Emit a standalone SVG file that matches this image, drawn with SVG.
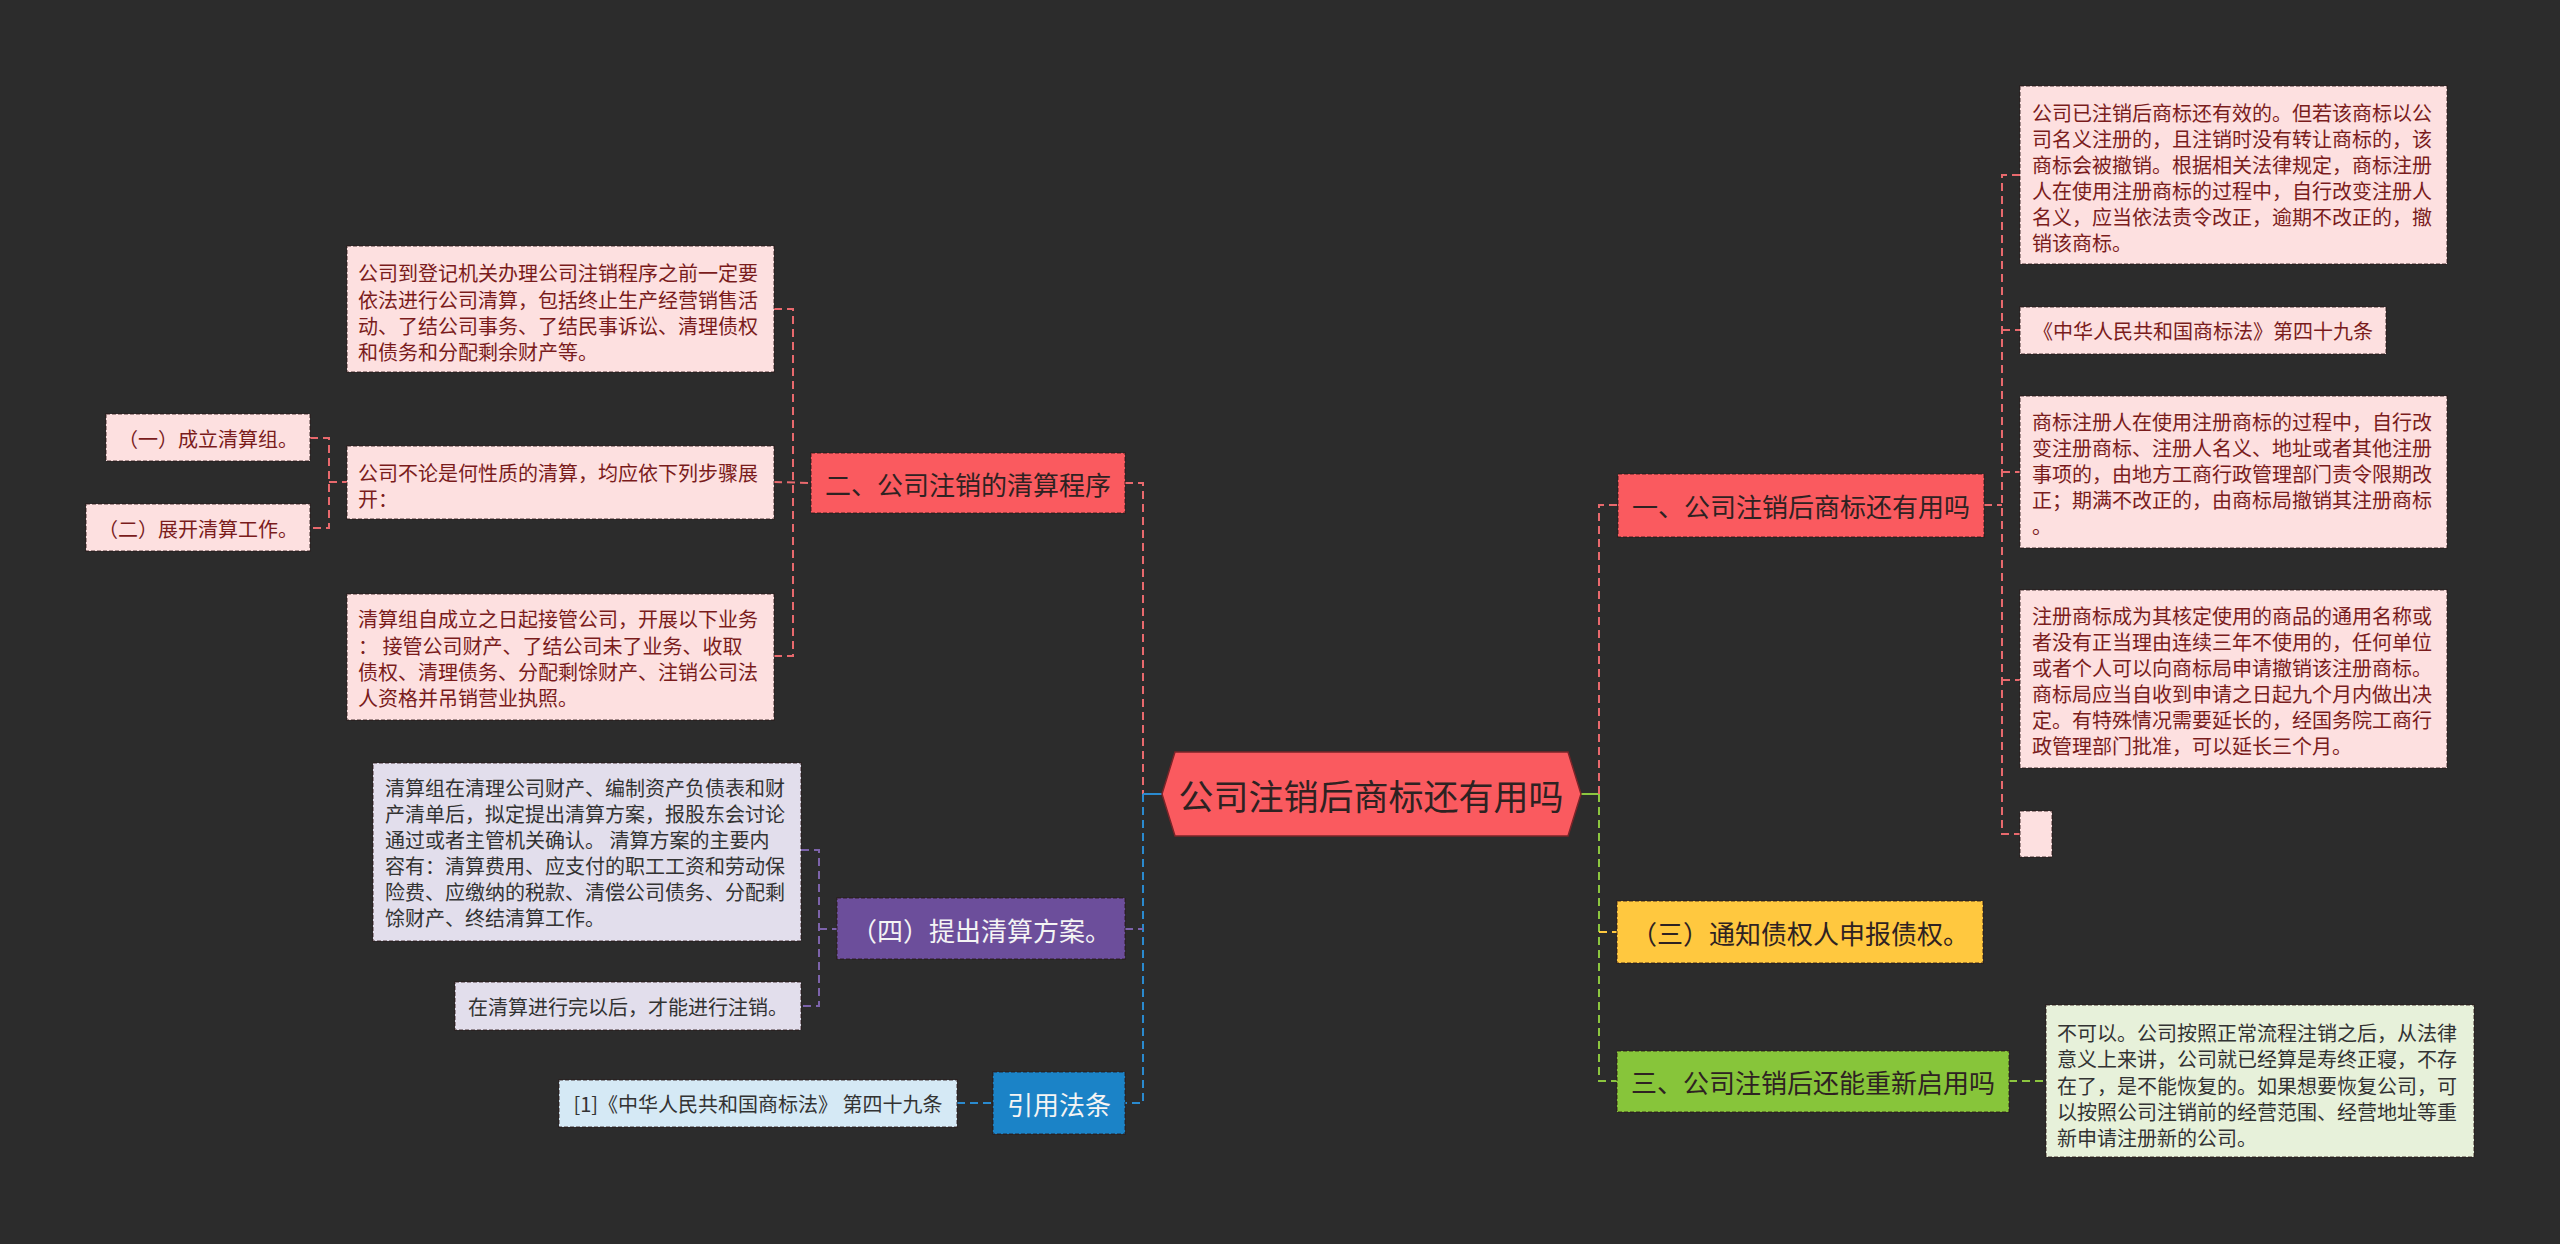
<svg xmlns="http://www.w3.org/2000/svg" width="2560" height="1244" viewBox="0 0 2560 1244">
<style>
text{font-family:"Noto Sans CJK SC","Noto Sans",sans-serif;dominant-baseline:central;}
.bd{stroke:rgba(40,20,20,0.55);stroke-width:1.5;stroke-dasharray:4 2;}
.red{fill:#FA5A5F;}
.pink{fill:#FDE0E0;}
.lav{fill:#E2DEEC;}
.lb{fill:#D5E9F5;}
.lg{fill:#E7F1DA;}
.pur{fill:#6C4E9B;}
.blu{fill:#1B83C7;}
.yel{fill:#FFC83F;}
.grn{fill:#87C53A;}
.t26{font-size:26px;text-anchor:middle;}
.t20{font-size:20px;}
.dk{fill:#2e2222;}
.wh{fill:#F4F4F4;}
.pt{fill:#7A1C1C;}
.gt{fill:#333333;}
.c{text-anchor:middle;}
.cn line,.cn polyline{fill:none;stroke-width:2;}
.dr{stroke:#E8696D;stroke-dasharray:8 5;}
.db{stroke:#2A8ACF;stroke-dasharray:8 5;}
.dp{stroke:#7C63AA;stroke-dasharray:8 5;}
.dg{stroke:#8CC63F;stroke-dasharray:8 5;}
.dy{stroke:#FFC83F;stroke-dasharray:8 5;}
</style>
<rect x="0" y="0" width="2560" height="1244" fill="#2C2C2C"/>

<g id="connectors" class="cn">
  <!-- left main -->
  <polyline class="dr" points="1125,483 1143,483 1143,794"/>
  <line x1="1143" y1="794" x2="1162" y2="794" stroke="#2A8ACF" stroke-width="3"/>
  <polyline class="db" points="1143,794 1143,1103 1125,1103"/>
  <line class="dp" x1="1125" y1="929" x2="1143" y2="929"/>
  <!-- node 二 children -->
  <polyline class="dr" points="774,309 793,309 793,656 774,656"/>
  <line class="dr" x1="774" y1="482" x2="811" y2="483"/>
  <!-- L2 children -->
  <polyline class="dr" points="310,438 329,438 329,528 310,528"/>
  <line class="dr" x1="329" y1="482" x2="347" y2="482"/>
  <!-- 四 children -->
  <polyline class="dp" points="801,850 819,850 819,1006 801,1006"/>
  <line class="dp" x1="819" y1="929" x2="837" y2="929"/>
  <!-- 引用 child -->
  <line class="db" x1="957" y1="1103" x2="993" y2="1103"/>
  <!-- right main -->
  <line x1="1581" y1="794" x2="1599" y2="794" stroke="#8CC63F" stroke-width="3"/>
  <polyline class="dr" points="1599,794 1599,505 1618,505"/>
  <polyline class="dg" points="1599,794 1599,1081 1617,1081"/>
  <line class="dy" x1="1599" y1="932" x2="1617" y2="932"/>
  <!-- 一 children -->
  <line class="dr" x1="1984" y1="505" x2="2002" y2="505"/>
  <polyline class="dr" points="2020,175 2002,175 2002,834 2020,834"/>
  <line class="dr" x1="2002" y1="330" x2="2020" y2="330"/>
  <line class="dr" x1="2002" y1="472" x2="2020" y2="472"/>
  <line class="dr" x1="2002" y1="680" x2="2020" y2="680"/>
  <!-- 三、 child -->
  <line class="dg" x1="2009" y1="1081" x2="2046" y2="1081"/>
</g>

<g id="root">
  <polygon points="1162,794 1175,752 1568,752 1581,794 1568,836 1175,836" fill="#FA5A5F" stroke="#7a2428" stroke-width="1.5"/>
  <text x="1371" y="794" class="dk c" font-size="35">公司注销后商标还有用吗</text>
</g>

<g id="n-er">
  <rect x="811" y="453" width="314" height="60" class="red bd"/>
  <text x="968" y="483" class="t26 dk">二、公司注销的清算程序</text>
</g>
<g id="n-er-1">
  <rect x="347" y="246" width="427" height="126" class="pink bd"/>
  <text class="t20 pt"><tspan x="358" y="272">公司到登记机关办理公司注销程序之前一定要</tspan><tspan x="358" y="299">依法进行公司清算，包括终止生产经营销售活</tspan><tspan x="358" y="325">动、了结公司事务、了结民事诉讼、清理债权</tspan><tspan x="358" y="351">和债务和分配剩余财产等。</tspan></text>
</g>
<g id="n-er-2">
  <rect x="347" y="446" width="427" height="73" class="pink bd"/>
  <text class="t20 pt"><tspan x="358" y="472">公司不论是何性质的清算，均应依下列步骤展</tspan><tspan x="358" y="498">开：</tspan></text>
</g>
<g id="n-er-2-a">
  <rect x="106" y="414" width="204" height="47" class="pink bd"/>
  <text x="208" y="438" class="t20 pt c">（一）成立清算组。</text>
</g>
<g id="n-er-2-b">
  <rect x="86" y="504" width="224" height="47" class="pink bd"/>
  <text x="198" y="528" class="t20 pt c">（二）展开清算工作。</text>
</g>
<g id="n-er-3">
  <rect x="347" y="594" width="427" height="126" class="pink bd"/>
  <text class="t20 pt"><tspan x="358" y="618">清算组自成立之日起接管公司，开展以下业务</tspan><tspan x="358" y="645">： 接管公司财产、了结公司未了业务、收取</tspan><tspan x="358" y="671">债权、清理债务、分配剩馀财产、注销公司法</tspan><tspan x="358" y="697">人资格并吊销营业执照。</tspan></text>
</g>

<g id="n-si">
  <rect x="837" y="898" width="288" height="61" class="pur bd"/>
  <text x="981" y="929" class="t26 wh">（四）提出清算方案。</text>
</g>
<g id="n-si-1">
  <rect x="373" y="763" width="428" height="178" class="lav bd"/>
  <text class="t20 gt"><tspan x="385" y="787">清算组在清理公司财产、编制资产负债表和财</tspan><tspan x="385" y="813">产清单后，拟定提出清算方案，报股东会讨论</tspan><tspan x="385" y="839">通过或者主管机关确认。 清算方案的主要内</tspan><tspan x="385" y="865">容有：清算费用、应支付的职工工资和劳动保</tspan><tspan x="385" y="891">险费、应缴纳的税款、清偿公司债务、分配剩</tspan><tspan x="385" y="917">馀财产、终结清算工作。</tspan></text>
</g>
<g id="n-si-2">
  <rect x="455" y="982" width="346" height="48" class="lav bd"/>
  <text x="628" y="1006" class="t20 gt c">在清算进行完以后，才能进行注销。</text>
</g>

<g id="n-yin">
  <rect x="993" y="1072" width="132" height="62" class="blu bd"/>
  <text x="1059" y="1103" class="t26 wh">引用法条</text>
</g>
<g id="n-yin-1">
  <rect x="559" y="1080" width="398" height="47" class="lb bd"/>
  <text x="758" y="1103" class="t20 gt c">[1]《中华人民共和国商标法》 第四十九条</text>
</g>

<g id="n-yi">
  <rect x="1618" y="474" width="366" height="63" class="red bd"/>
  <text x="1801" y="505" class="t26 dk">一、公司注销后商标还有用吗</text>
</g>
<g id="n-yi-1">
  <rect x="2020" y="86" width="427" height="178" class="pink bd"/>
  <text class="t20 pt"><tspan x="2032" y="112">公司已注销后商标还有效的。但若该商标以公</tspan><tspan x="2032" y="138">司名义注册的，且注销时没有转让商标的，该</tspan><tspan x="2032" y="164">商标会被撤销。根据相关法律规定，商标注册</tspan><tspan x="2032" y="190">人在使用注册商标的过程中，自行改变注册人</tspan><tspan x="2032" y="216">名义，应当依法责令改正，逾期不改正的，撤</tspan><tspan x="2032" y="242">销该商标。</tspan></text>
</g>
<g id="n-yi-2">
  <rect x="2020" y="307" width="366" height="47" class="pink bd"/>
  <text x="2203" y="330" class="t20 pt c">《中华人民共和国商标法》第四十九条</text>
</g>
<g id="n-yi-3">
  <rect x="2020" y="396" width="427" height="152" class="pink bd"/>
  <text class="t20 pt"><tspan x="2032" y="421">商标注册人在使用注册商标的过程中，自行改</tspan><tspan x="2032" y="447">变注册商标、注册人名义、地址或者其他注册</tspan><tspan x="2032" y="473">事项的，由地方工商行政管理部门责令限期改</tspan><tspan x="2032" y="499">正；期满不改正的，由商标局撤销其注册商标</tspan><tspan x="2032" y="525">。</tspan></text>
</g>
<g id="n-yi-4">
  <rect x="2020" y="590" width="427" height="178" class="pink bd"/>
  <text class="t20 pt"><tspan x="2032" y="615">注册商标成为其核定使用的商品的通用名称或</tspan><tspan x="2032" y="641">者没有正当理由连续三年不使用的，任何单位</tspan><tspan x="2032" y="667">或者个人可以向商标局申请撤销该注册商标。</tspan><tspan x="2032" y="693">商标局应当自收到申请之日起九个月内做出决</tspan><tspan x="2032" y="719">定。有特殊情况需要延长的，经国务院工商行</tspan><tspan x="2032" y="745">政管理部门批准，可以延长三个月。</tspan></text>
</g>
<g id="n-yi-5">
  <rect x="2020" y="811" width="32" height="46" class="pink bd"/>
</g>

<g id="n-san-a">
  <rect x="1617" y="901" width="366" height="62" class="yel bd"/>
  <text x="1800" y="932" class="t26 dk">（三）通知债权人申报债权。</text>
</g>
<g id="n-san">
  <rect x="1617" y="1051" width="392" height="61" class="grn bd"/>
  <text x="1813" y="1081" class="t26 dk">三、公司注销后还能重新启用吗</text>
</g>
<g id="n-san-1">
  <rect x="2046" y="1005" width="428" height="152" class="lg bd"/>
  <text class="t20 gt"><tspan x="2057" y="1032">不可以。公司按照正常流程注销之后，从法律</tspan><tspan x="2057" y="1058">意义上来讲，公司就已经算是寿终正寝，不存</tspan><tspan x="2057" y="1085">在了，是不能恢复的。如果想要恢复公司，可</tspan><tspan x="2057" y="1111">以按照公司注销前的经营范围、经营地址等重</tspan><tspan x="2057" y="1137">新申请注册新的公司。</tspan></text>
</g>
</svg>
